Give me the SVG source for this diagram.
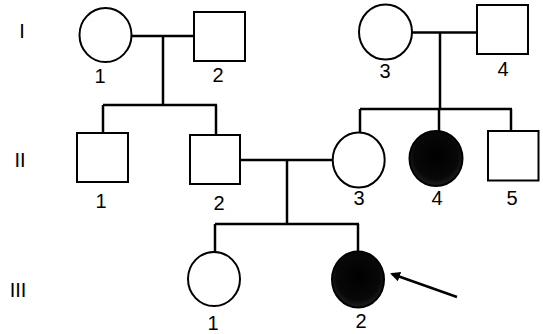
<svg xmlns="http://www.w3.org/2000/svg" width="543" height="334" viewBox="0 0 543 334">
<style>
.sym{fill:#fff;stroke:#000;stroke-width:2}
.aff{fill:url(#g);stroke:#000;stroke-width:2}
.ln{stroke:#000;stroke-width:2.5;fill:none}
.lt{font-family:"Liberation Sans",Arial,sans-serif;font-size:20px;fill:#000;text-anchor:middle}
</style>
<defs>
<radialGradient id="g" cx="0.5" cy="0.45" r="0.6">
<stop offset="0" stop-color="#000"/>
<stop offset="0.7" stop-color="#080808"/>
<stop offset="1" stop-color="#2a2a2a"/>
</radialGradient>
<marker id="ah" markerWidth="10" markerHeight="10" refX="8" refY="5" orient="auto" markerUnits="userSpaceOnUse">
<polygon points="0,0 10,5 0,10" fill="#000"/>
</marker>
</defs>
<g id="generations">
<text class="lt" x="22" y="38">I</text>
<text class="lt" x="20" y="167">II</text>
<text class="lt" x="18" y="297">III</text>
</g>
<g id="connectors">
<line class="ln" x1="132" y1="36" x2="194" y2="36"/>
<line class="ln" x1="163" y1="36" x2="163" y2="105"/>
<line class="ln" x1="103" y1="105" x2="217" y2="105"/>
<line class="ln" x1="103" y1="105" x2="103" y2="133"/>
<line class="ln" x1="216" y1="105" x2="216" y2="135"/>
<line class="ln" x1="412" y1="32.5" x2="477" y2="32.5"/>
<line class="ln" x1="440" y1="33" x2="440" y2="109"/>
<line class="ln" x1="360" y1="109" x2="512" y2="109"/>
<line class="ln" x1="360" y1="109" x2="360" y2="132"/>
<line class="ln" x1="439" y1="109" x2="439" y2="131"/>
<line class="ln" x1="511" y1="109" x2="511" y2="131"/>
<line class="ln" x1="240" y1="160" x2="333" y2="160"/>
<line class="ln" x1="287" y1="160" x2="287" y2="224"/>
<line class="ln" x1="215" y1="224" x2="359" y2="224"/>
<line class="ln" x1="215" y1="224" x2="215" y2="252"/>
<line class="ln" x1="358" y1="224" x2="358" y2="251"/>
<line x1="457" y1="297" x2="392" y2="274" stroke="#000" stroke-width="2.5" marker-end="url(#ah)"/>
</g>
<g id="I-1"><ellipse class="sym" cx="105.5" cy="35" rx="26" ry="27"/><text class="lt" x="100" y="83">1</text></g>
<g id="I-2"><rect class="sym" x="194" y="12" width="51" height="49"/><text class="lt" x="218" y="82">2</text></g>
<g id="I-3"><ellipse class="sym" cx="385.5" cy="32" rx="26.5" ry="27.5"/><text class="lt" x="385" y="78">3</text></g>
<g id="I-4"><rect class="sym" x="477" y="5" width="51" height="49"/><text class="lt" x="503" y="76">4</text></g>
<g id="II-1"><rect class="sym" x="77" y="133" width="51" height="49"/><text class="lt" x="101" y="208">1</text></g>
<g id="II-2"><rect class="sym" x="190" y="135" width="50" height="49"/><text class="lt" x="219" y="210">2</text></g>
<g id="II-3"><ellipse class="sym" cx="358.7" cy="160" rx="26" ry="27.5"/><text class="lt" x="359" y="205">3</text></g>
<g id="II-4"><ellipse class="aff" cx="436" cy="158.5" rx="26.5" ry="27.5"/><text class="lt" x="437" y="205">4</text></g>
<g id="II-5"><rect class="sym" x="488" y="131" width="50.5" height="49.5"/><text class="lt" x="512" y="205">5</text></g>
<g id="III-1"><ellipse class="sym" cx="214" cy="279" rx="26" ry="27"/><text class="lt" x="213" y="330">1</text></g>
<g id="III-2"><ellipse class="aff" cx="358" cy="279.5" rx="26" ry="28"/><text class="lt" x="361" y="328">2</text></g>
</svg>
